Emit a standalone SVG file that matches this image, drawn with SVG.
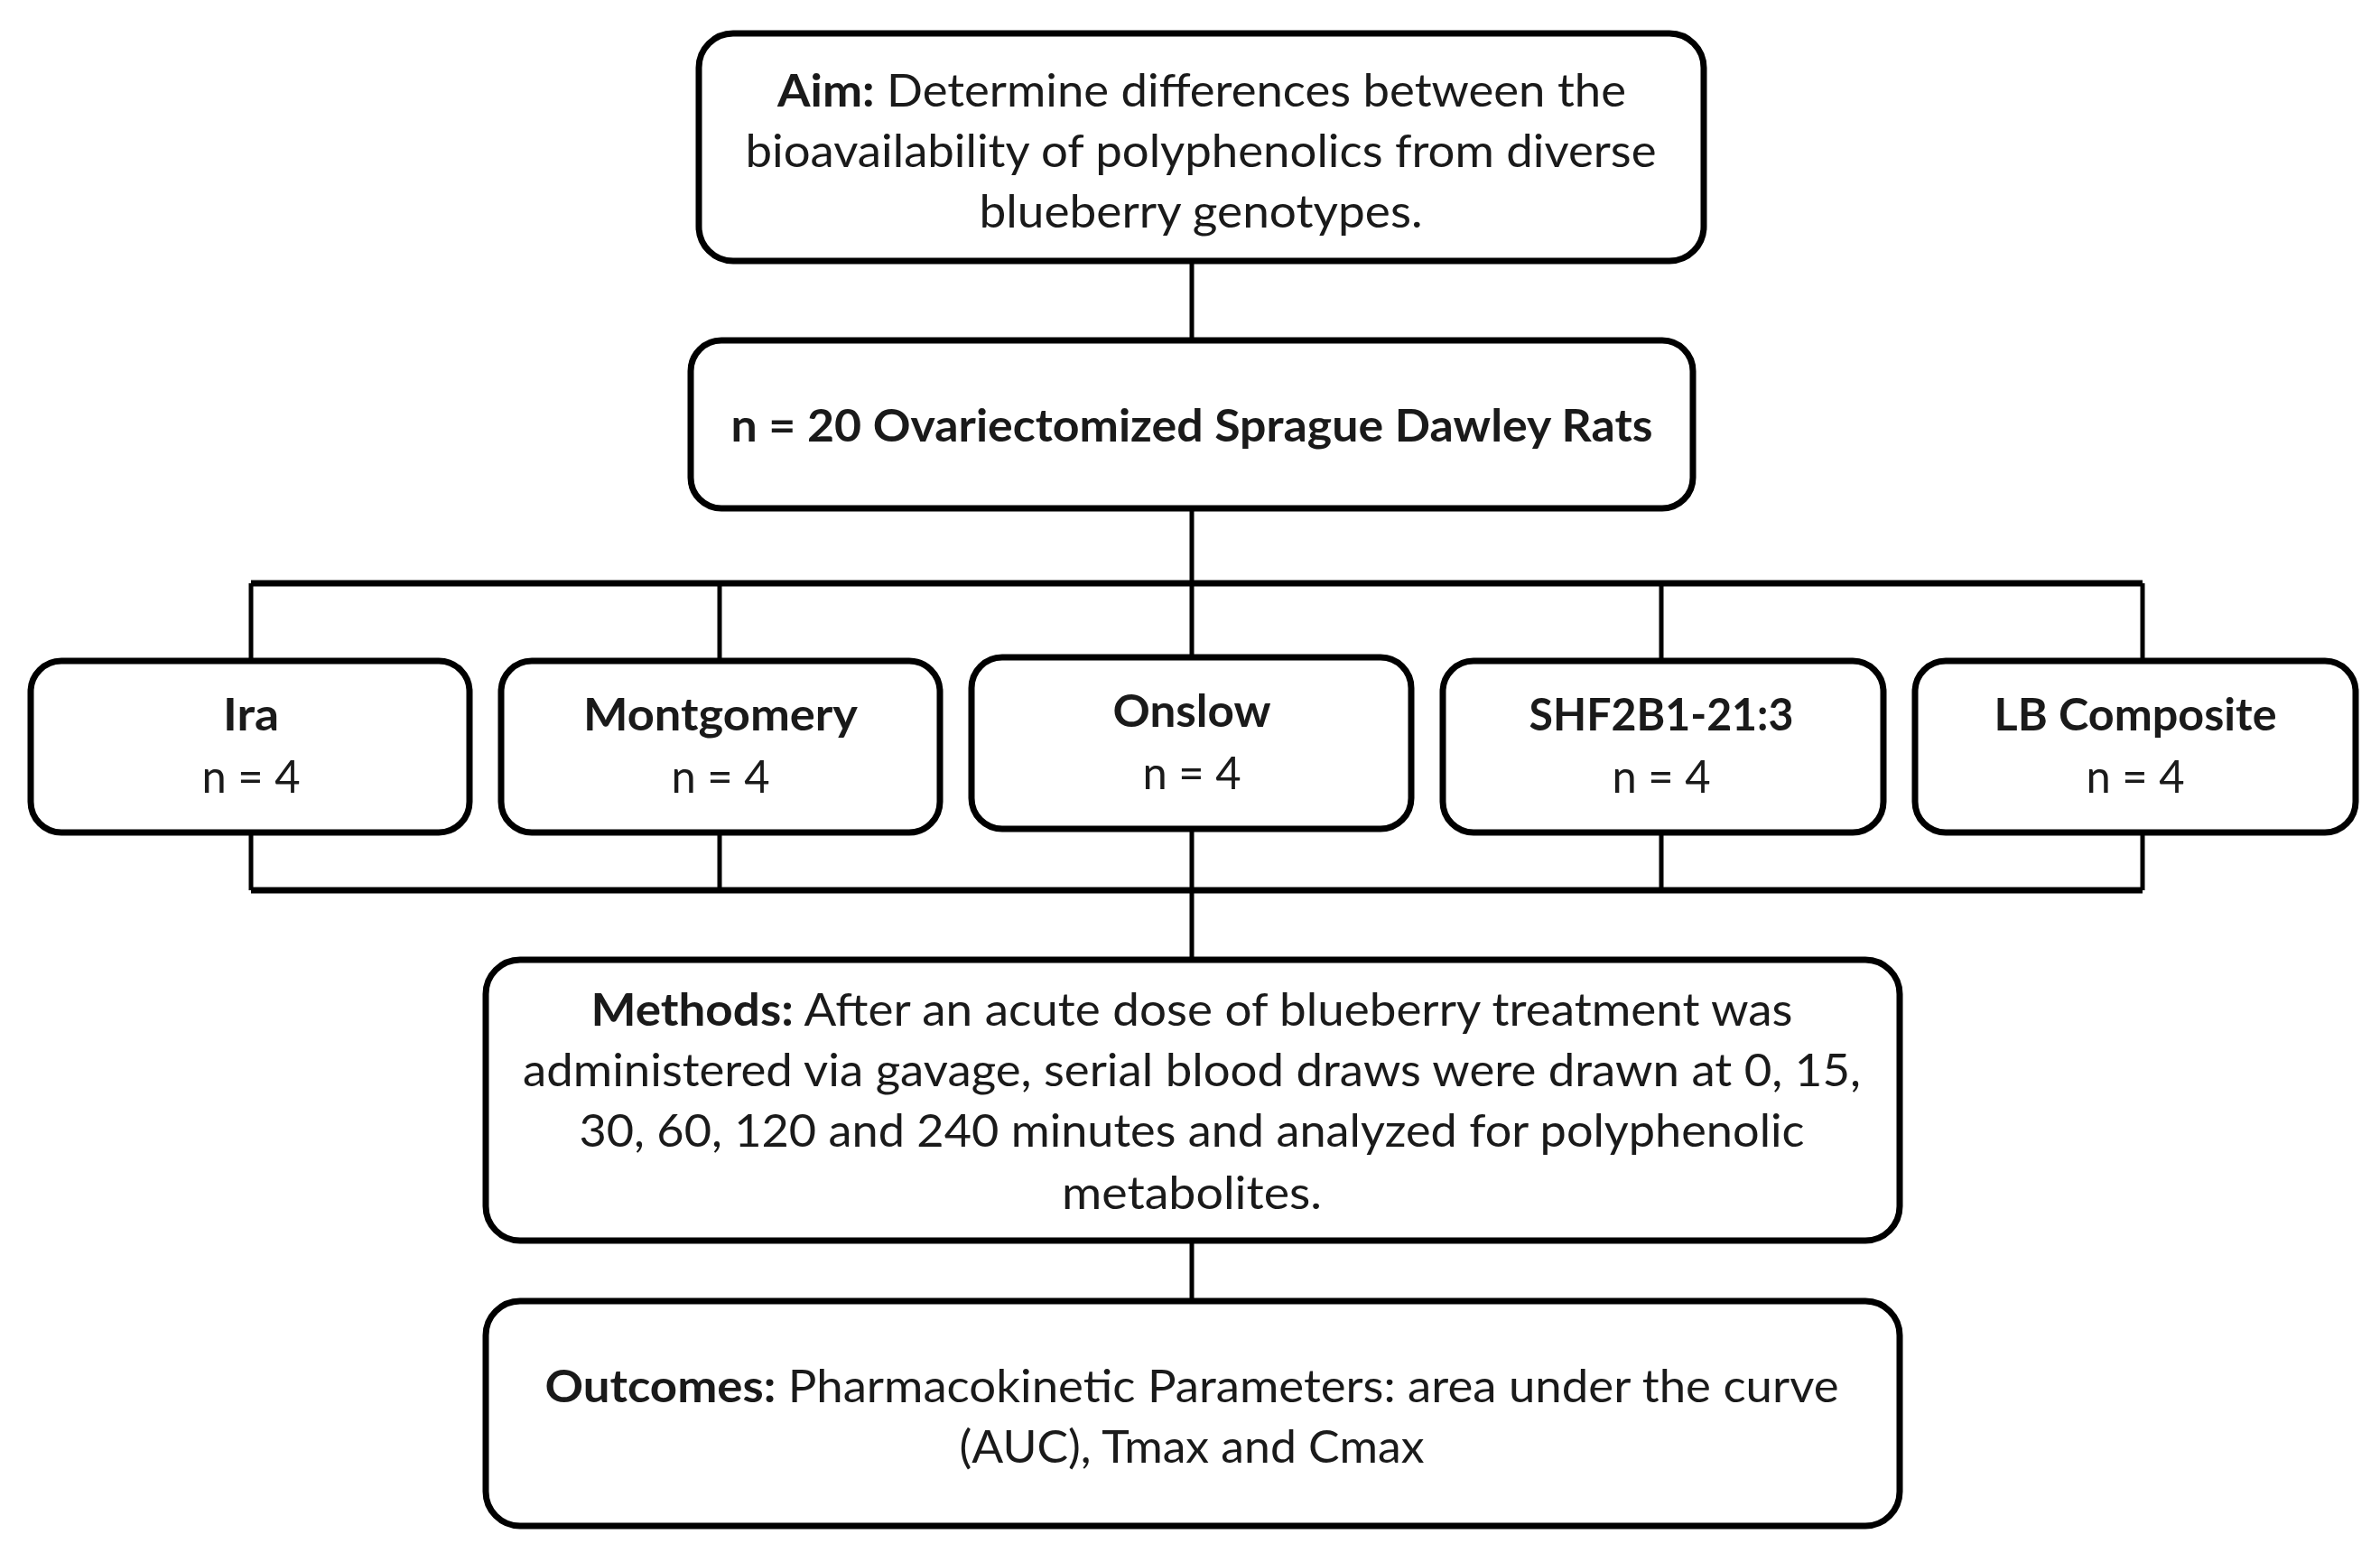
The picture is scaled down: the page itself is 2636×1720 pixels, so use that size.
<svg xmlns="http://www.w3.org/2000/svg" width="2636" height="1720" viewBox="0 0 2636 1720">
<style>
.box{fill:#fff;stroke:#000;stroke-width:7}
.t{font-family:Lato,"Open Sans","Liberation Sans",sans-serif;font-size:50px;fill:#1a1a1a;text-anchor:middle}
.b{font-weight:bold}
.v{stroke:#000;stroke-width:5;fill:none}
.h{stroke:#000;stroke-width:7;fill:none}
</style>
<rect width="2636" height="1720" fill="#fff"/>
<g id="connectors">
<line class="v" x1="1320" y1="289" x2="1320" y2="377"/>
<line class="v" x1="1320" y1="563" x2="1320" y2="646"/>
<line class="h" x1="278" y1="646" x2="2373" y2="646"/>
<line class="v" x1="278" y1="646" x2="278" y2="732"/>
<line class="v" x1="797" y1="646" x2="797" y2="732"/>
<line class="v" x1="1320" y1="646" x2="1320" y2="728"/>
<line class="v" x1="1840" y1="646" x2="1840" y2="732"/>
<line class="v" x1="2373" y1="646" x2="2373" y2="732"/>
<line class="v" x1="278" y1="922" x2="278" y2="986"/>
<line class="v" x1="797" y1="922" x2="797" y2="986"/>
<line class="v" x1="1320" y1="918" x2="1320" y2="1063"/>
<line class="v" x1="1840" y1="922" x2="1840" y2="986"/>
<line class="v" x1="2373" y1="922" x2="2373" y2="986"/>
<line class="h" x1="278" y1="986" x2="2373" y2="986"/>
<line class="v" x1="1320" y1="1374" x2="1320" y2="1441"/>
</g>
<g id="aim">
<rect class="box" x="774" y="37" width="1113" height="252" rx="38"/>
<text class="t" x="1331" y="118" textLength="940" lengthAdjust="spacingAndGlyphs"><tspan class="b">Aim:</tspan> Determine differences between the</text>
<text class="t" x="1330" y="185" textLength="1009" lengthAdjust="spacingAndGlyphs">bioavailability of polyphenolics from diverse</text>
<text class="t" x="1330" y="252" textLength="491" lengthAdjust="spacingAndGlyphs">blueberry genotypes.</text>
</g>
<g id="rats">
<rect class="box" x="765" y="377" width="1110" height="186" rx="34"/>
<text class="t b" x="1320" y="489" textLength="1021" lengthAdjust="spacingAndGlyphs">n = 20 Ovariectomized Sprague Dawley Rats</text>
</g>
<g id="ira">
<rect class="box" x="34" y="732" width="486" height="190" rx="34"/>
<text class="t b" x="278" y="809" textLength="62" lengthAdjust="spacingAndGlyphs">Ira</text>
<text class="t" x="278" y="878" textLength="109" lengthAdjust="spacingAndGlyphs">n = 4</text>
</g>
<g id="montgomery">
<rect class="box" x="555" y="732" width="486" height="190" rx="34"/>
<text class="t b" x="798" y="809" textLength="304" lengthAdjust="spacingAndGlyphs">Montgomery</text>
<text class="t" x="798" y="878" textLength="109" lengthAdjust="spacingAndGlyphs">n = 4</text>
</g>
<g id="onslow">
<rect class="box" x="1076" y="728" width="487" height="190" rx="34"/>
<text class="t b" x="1320" y="805" textLength="175" lengthAdjust="spacingAndGlyphs">Onslow</text>
<text class="t" x="1320" y="874" textLength="109" lengthAdjust="spacingAndGlyphs">n = 4</text>
</g>
<g id="shf2b1">
<rect class="box" x="1598" y="732" width="488" height="190" rx="34"/>
<text class="t b" x="1840" y="809" textLength="293" lengthAdjust="spacingAndGlyphs">SHF2B1-21:3</text>
<text class="t" x="1840" y="878" textLength="109" lengthAdjust="spacingAndGlyphs">n = 4</text>
</g>
<g id="lbcomposite">
<rect class="box" x="2121" y="732" width="488" height="190" rx="34"/>
<text class="t b" x="2365" y="809" textLength="313" lengthAdjust="spacingAndGlyphs">LB Composite</text>
<text class="t" x="2365" y="878" textLength="109" lengthAdjust="spacingAndGlyphs">n = 4</text>
</g>
<g id="methods">
<rect class="box" x="538" y="1063" width="1566" height="311" rx="38"/>
<text class="t" x="1320" y="1136" textLength="1331" lengthAdjust="spacingAndGlyphs"><tspan class="b">Methods:</tspan> After an acute dose of blueberry treatment was</text>
<text class="t" x="1320" y="1203" textLength="1482" lengthAdjust="spacingAndGlyphs">administered via gavage, serial blood draws were drawn at 0, 15,</text>
<text class="t" x="1320" y="1270" textLength="1357" lengthAdjust="spacingAndGlyphs">30, 60, 120 and 240 minutes and analyzed for polyphenolic</text>
<text class="t" x="1320" y="1339" textLength="288" lengthAdjust="spacingAndGlyphs">metabolites.</text>
</g>
<g id="outcomes">
<rect class="box" x="538" y="1441" width="1566" height="249" rx="38"/>
<text class="t" x="1320" y="1553" textLength="1433" lengthAdjust="spacingAndGlyphs"><tspan class="b">Outcomes:</tspan> Pharmacokinetic Parameters: area under the curve</text>
<text class="t" x="1320" y="1620" textLength="515" lengthAdjust="spacingAndGlyphs">(AUC), Tmax and Cmax</text>
</g>
</svg>
